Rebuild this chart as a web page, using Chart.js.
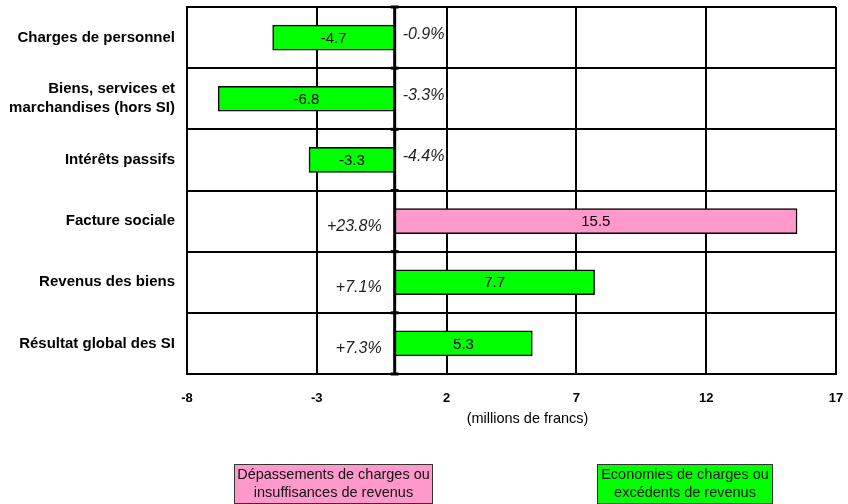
<!DOCTYPE html>
<html>
<head>
<meta charset="utf-8">
<script src="https://cdn.jsdelivr.net/npm/chart.js@4"></script>
<style>
  html, body { margin: 0; padding: 0; background: #fff; }
  #wrap { width: 848px; height: 504px; position: relative; }
</style>
</head>
<body>
<div id="wrap"><canvas id="ecartChart"></canvas></div>
<script>
// Données
const categories = [
    ['Charges de personnel'],
    ['Biens, services et', 'marchandises (hors SI)'],
    ['Intérêts passifs'],
    ['Facture sociale'],
    ['Revenus des biens'],
    ['Résultat global des SI']
];
const ecarts = [-4.7, -6.8, -3.3, 15.5, 7.7, 5.3];           // millions de francs
const pourcentages = ['-0.9%', '-3.3%', '-4.4%', '+23.8%', '+7.1%', '+7.3%'];
const depassement = [false, false, false, true, false, false]; // rose = dépassement
const tickValues = [-8, -3, 2, 7, 12, 17];
const axisTitle = '(millions de francs)';
const legendPink = ['Dépassements de charges ou', 'insuffisances de revenus'];
const legendGreen = ['Economies de charges ou', 'excédents de revenus'];

const FONT = "'Liberation Sans', Arial, sans-serif";
const PINK = '#ff99cc';
const GREEN = '#00ff00';

// Plugin pour la ligne du zéro, les étiquettes et la légende
const annotations = {
    id: 'annotations',
    afterDatasetsDraw(chart) {
        const { ctx, chartArea, scales: { x, y } } = chart;
        const x0 = x.getPixelForValue(0);
        ctx.save();

        // ligne verticale du zéro avec encoches
        ctx.strokeStyle = '#000';
        ctx.lineWidth = 3;
        ctx.beginPath();
        ctx.moveTo(x0, chartArea.top);
        ctx.lineTo(x0, chartArea.bottom);
        ctx.stroke();
        ctx.fillStyle = '#000';
        for (let i = 0; i <= categories.length; i++) {
            const yb = y.getPixelForValue(i - 0.5);
            ctx.fillRect(x0 - 4, yb - 1.5, 8, 3);
        }

        // valeurs dans les barres
        const meta = chart.getDatasetMeta(0);
        ctx.font = '15px ' + FONT;
        ctx.textBaseline = 'middle';
        ctx.textAlign = 'center';
        meta.data.forEach((bar, i) => {
            ctx.fillText(ecarts[i].toFixed(1), (bar.x + bar.base) / 2, bar.y + 1);
        });

        // pourcentages en italique
        ctx.font = 'italic 16px ' + FONT;
        ctx.fillStyle = '#222';
        meta.data.forEach((bar, i) => {
            if (ecarts[i] < 0) {
                ctx.textAlign = 'left';
                ctx.fillText(pourcentages[i], x0 + 8, bar.y - 3);
            } else {
                ctx.textAlign = 'right';
                ctx.fillText(pourcentages[i], x0 - 13, bar.y + 5);
            }
        });

        // titre de l'axe
        ctx.fillStyle = '#000';
        ctx.font = '14.5px ' + FONT;
        ctx.textAlign = 'center';
        ctx.fillText(axisTitle, (chartArea.left + chartArea.right) / 2 + 16, chartArea.bottom + 45);

        // légende
        function box(left, width, color, lines) {
            const top = 464, h = 39;
            ctx.fillStyle = color;
            ctx.fillRect(left, top, width, h);
            ctx.strokeStyle = '#333';
            ctx.lineWidth = 1;
            ctx.strokeRect(left + 0.5, top + 0.5, width, h);
            ctx.fillStyle = '#111';
            ctx.font = '14.5px ' + FONT;
            ctx.textAlign = 'center';
            lines.forEach((t, k) => ctx.fillText(t, left + width / 2 + 0.5, top + 11 + k * 18));
        }
        box(234, 198, PINK, legendPink);
        box(597, 175, GREEN, legendGreen);

        ctx.restore();
    }
};

function noPadding(scale) {
    scale.paddingTop = 0;
    scale.paddingBottom = 0;
    scale.paddingLeft = 0;
    scale.paddingRight = 0;
}

const ctx = document.getElementById('ecartChart').getContext('2d');
new Chart(ctx, {
    type: 'bar',
    data: {
        labels: categories,
        datasets: [{
            data: ecarts,
            backgroundColor: depassement.map(d => d ? PINK : GREEN),
            borderColor: '#000',
            borderWidth: 1.5,
            borderSkipped: false,
            barThickness: 25
        }]
    },
    options: {
        indexAxis: 'y',
        responsive: true,
        maintainAspectRatio: false,
        animation: false,
        layout: { padding: { top: 7, right: 12, bottom: 80, left: 0 } },
        plugins: {
            legend: { display: false },
            tooltip: { enabled: false }
        },
        scales: {
            x: {
                min: -8,
                max: 17,
                afterBuildTicks: scale => { scale.ticks = tickValues.map(v => ({ value: v })); },
                afterFit: scale => { scale.height = 50; noPadding(scale); },
                grid: { color: '#000', lineWidth: 2, drawTicks: false },
                border: { color: '#000', width: 2 },
                ticks: {
                    padding: 17,
                    color: '#000',
                    font: { family: FONT, size: 13, weight: 'bold' },
                    maxRotation: 0
                }
            },
            y: {
                afterFit: scale => { scale.width = 187; noPadding(scale); },
                grid: { color: '#000', lineWidth: 2, drawTicks: false, offset: true },
                border: { color: '#000', width: 2 },
                ticks: {
                    padding: 12,
                    color: '#000',
                    font: { family: FONT, size: 15, weight: 'bold', lineHeight: 1.27 }
                }
            }
        }
    },
    plugins: [annotations]
});
</script>
</body>
</html>
